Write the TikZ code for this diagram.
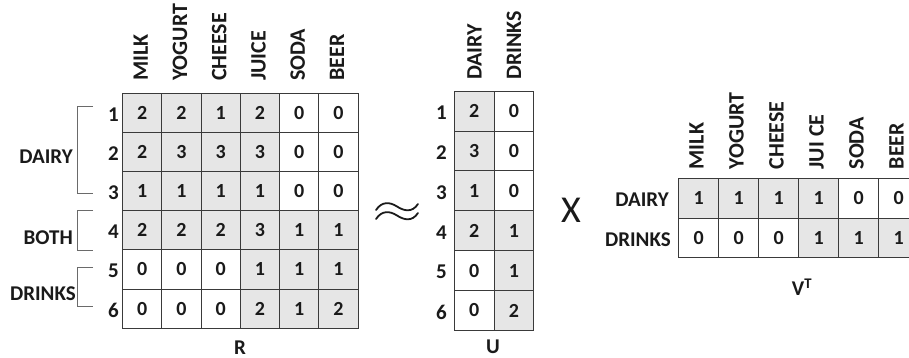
\documentclass[tikz,border=0pt]{standalone}
\usepackage{fontspec}
\setmainfont{Carlito}
\definecolor{cellgray}{HTML}{E6E6E6}
\definecolor{linec}{HTML}{3A3A3A}
\definecolor{brc}{HTML}{6A6A6A}
\definecolor{txt}{HTML}{1A1A1A}
\tikzset{
  cell/.style={draw=linec, line width=0.9pt, minimum width=#1, minimum height=39.2pt,
    inner sep=0pt, anchor=north west, text=txt, font=\bfseries\fontsize{20}{20}\selectfont},
  cell/.default=39.3pt,
  s1/.style={fill=cellgray},
  s0/.style={fill=white},
  hdr/.style={rotate=90, anchor=west, inner sep=0pt, text=txt, font=\bfseries\fontsize{22}{22}\selectfont},
  rowlab/.style={anchor=east, inner sep=0pt, text=txt, font=\bfseries\fontsize{21}{21}\selectfont},
  bracketline/.style={draw=brc, line width=1pt},
  mtitle/.style={inner sep=0pt, text=txt, font=\bfseries\fontsize{21}{21}\selectfont},
  wave/.style={draw=txt, line width=1.8pt, line cap=round},
}
\begin{document}
\begin{tikzpicture}[x=1pt,y=-1pt]
\useasboundingbox (0,0) rectangle (909,358);
\fill[white] (0,0) rectangle (909,358);
\clip (0,0) rectangle (909,358);

% ---------- R matrix ----------
\foreach [count=\i] \rowvals in {{2/1,2/1,1/1,2/1,0/0,0/0},{2/1,3/1,3/1,3/1,0/0,0/0},{1/1,1/1,1/1,1/1,0/0,0/0},{2/1,2/1,2/1,3/1,1/1,1/1},{0/0,0/0,0/0,1/1,1/1,1/1},{0/0,0/0,0/0,2/1,1/1,2/1}}{
  \foreach [count=\j] \v/\s in \rowvals {
    \node[cell, s\s] (R-\i-\j) at ({122+(\j-1)*39.27},{92.7+(\i-1)*39.17}) {\v};
  }
  \node[rowlab] (Rn-\i) at ({119},{92.7+(\i-0.5)*39.17+2}) {\i};
}
\foreach [count=\j] \h in {MILK,YOGURT,CHEESE,JUICE,SODA,BEER}{
  \node[hdr] (Rh-\j) at ({122+(\j-0.5)*39.27-1},81) {\h};
}
\node[mtitle] (Rlab) at (240,347.5) {R};

% brackets
\node[rowlab] (gDairy) at (73,157) {DAIRY};
\node[rowlab] (gBoth) at (73,238) {BOTH};
\node[rowlab] (gDrinks) at (76,294) {DRINKS};
\coordinate (bA1) at (93,107); \coordinate (bA2) at (93,193);
\coordinate (bB1) at (93,210.7); \coordinate (bB2) at (93,250);
\coordinate (bC1) at (93,267); \coordinate (bC2) at (93,306);
\draw[bracketline] (bA1) -- ++(-15.3,0) |- (bA2);
\draw[bracketline] (bB1) -- ++(-15.3,0) |- (bB2);
\draw[bracketline] (bC1) -- ++(-15.3,0) |- (bC2);

% approx sign
\draw[wave] (376,210) .. controls (382,201) and (390,202) .. (397,206.5) .. controls (404,211) and (412,213) .. (418,204);
\draw[wave] (376,219) .. controls (382,210) and (390,211) .. (397,215.5) .. controls (404,220) and (412,222) .. (418,213);

% ---------- U matrix ----------
\foreach [count=\i] \rowvals in {{2/1,0/0},{3/1,0/0},{1/1,0/0},{2/1,1/1},{0/0,1/1},{0/0,2/1}}{
  \foreach [count=\j] \v/\s in \rowvals {
    \node[cell=39.7pt, s\s, minimum height=39.9pt] (U-\i-\j) at ({454+(\j-1)*39.65},{90.7+(\i-1)*39.88}) {\v};
  }
  \node[rowlab] (Un-\i) at ({447},{90.7+(\i-0.5)*39.88+2}) {\i};
}
\node[hdr] (Uh-1) at (474.5,80) {DAIRY};
\node[hdr] (Uh-2) at (514,80) {DRINKS};
\node[mtitle] (Ulab) at (493,346.5) {U};

% times sign
\node[inner sep=0pt, text=txt, font=\fontsize{38}{38}\selectfont] (times) at (571,210) {X};

% ---------- V^T matrix ----------
\foreach [count=\i] \rowvals in {{1/1,1/1,1/1,1/1,0/0,0/0},{0/0,0/0,0/0,1/1,1/1,1/1}}{
  \foreach [count=\j] \v/\s in \rowvals {
    \node[cell=40pt, s\s, minimum height=39.5pt] (V-\i-\j) at ({678.3+(\j-1)*40},{178.3+(\i-1)*39.5}) {\v};
  }
}
\node[rowlab] (Vn-1) at (669,200) {DAIRY};
\node[rowlab] (Vn-2) at (671,240) {DRINKS};
\foreach [count=\j] \h in {MILK,YOGURT,CHEESE,JUI CE,SODA,BEER}{
  \node[hdr] (Vh-\j) at ({678.3+(\j-0.5)*40-1.8},169.5) {\h};
}
\node[mtitle] (Vlab) at (802,287) {V\textsuperscript{T}};
\end{tikzpicture}
\end{document}
